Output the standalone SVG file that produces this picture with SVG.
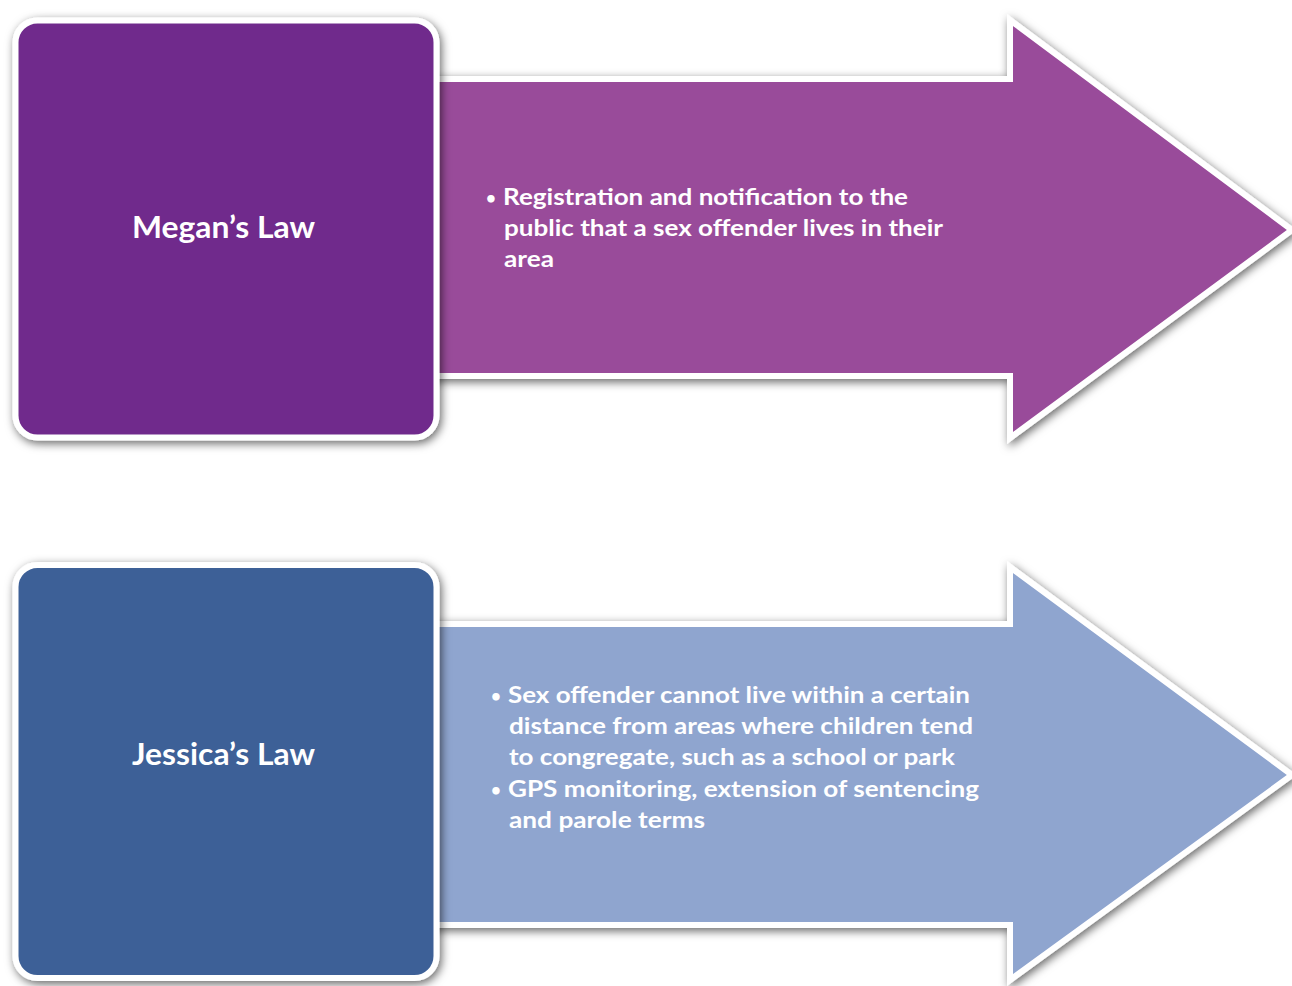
<svg xmlns="http://www.w3.org/2000/svg" width="1292" height="986" viewBox="0 0 1292 986">
<defs>
<filter id="sh" x="-10%" y="-10%" width="120%" height="120%">
<feDropShadow dx="2" dy="3" stdDeviation="5" flood-color="#000" flood-opacity="0.6"/>
</filter>
<style>
.shape{stroke:#fff;stroke-width:6;stroke-linejoin:miter;filter:url(#sh)}
.title{font-family:Lato,"Open Sans","Liberation Sans",sans-serif;font-weight:bold;font-size:30px;fill:#fff;text-anchor:middle}
.body{font-family:Lato,"Open Sans","Liberation Sans",sans-serif;font-weight:bold;font-size:23px;fill:#fff}
.bullet{font-family:Lato,"Open Sans","Liberation Sans",sans-serif;font-weight:bold;font-size:17px;fill:#fff}
</style>
</defs>
<rect width="1292" height="986" fill="#fff"/>
<g id="connectors">
<path id="arrow-megan" class="shape" fill="#994c9a" d="M430,79 H1010 V20 L1292,230 L1010,438 V376 H430 Z"/>
<path id="arrow-jessica" class="shape" fill="#8fa5cf" d="M430,624 H1010 V567 L1292,775 L1010,980 V925 H430 Z"/>
</g>
<g id="megan">
<rect class="shape" x="15.5" y="20.5" width="421" height="417" rx="22" fill="#6f2c8c"/>
<text class="title" x="223.5" y="238" textLength="183" lengthAdjust="spacingAndGlyphs">Megan’s Law</text>
</g>
<g id="megan-text">
<text class="bullet" x="486" y="204">•</text>
<text class="body" x="503" y="205" textLength="405" lengthAdjust="spacingAndGlyphs">Registration and notification to the</text>
<text class="body" x="504" y="236" textLength="439" lengthAdjust="spacingAndGlyphs">public that a sex offender lives in their</text>
<text class="body" x="504" y="267" textLength="50" lengthAdjust="spacingAndGlyphs">area</text>
</g>
<g id="jessica">
<rect class="shape" x="15.5" y="565" width="421" height="413" rx="22" fill="#3e6097"/>
<text class="title" x="223.5" y="765" textLength="183" lengthAdjust="spacingAndGlyphs">Jessica’s Law</text>
</g>
<g id="jessica-text">
<text class="bullet" x="491" y="702">•</text>
<text class="body" x="508" y="703" textLength="462" lengthAdjust="spacingAndGlyphs">Sex offender cannot live within a certain</text>
<text class="body" x="509" y="734" textLength="464" lengthAdjust="spacingAndGlyphs">distance from areas where children tend</text>
<text class="body" x="509" y="765" textLength="446" lengthAdjust="spacingAndGlyphs">to congregate, such as a school or park</text>
<text class="bullet" x="491" y="796">•</text>
<text class="body" x="508" y="797" textLength="471" lengthAdjust="spacingAndGlyphs">GPS monitoring, extension of sentencing</text>
<text class="body" x="509" y="828" textLength="196" lengthAdjust="spacingAndGlyphs">and parole terms</text>
</g>
</svg>
